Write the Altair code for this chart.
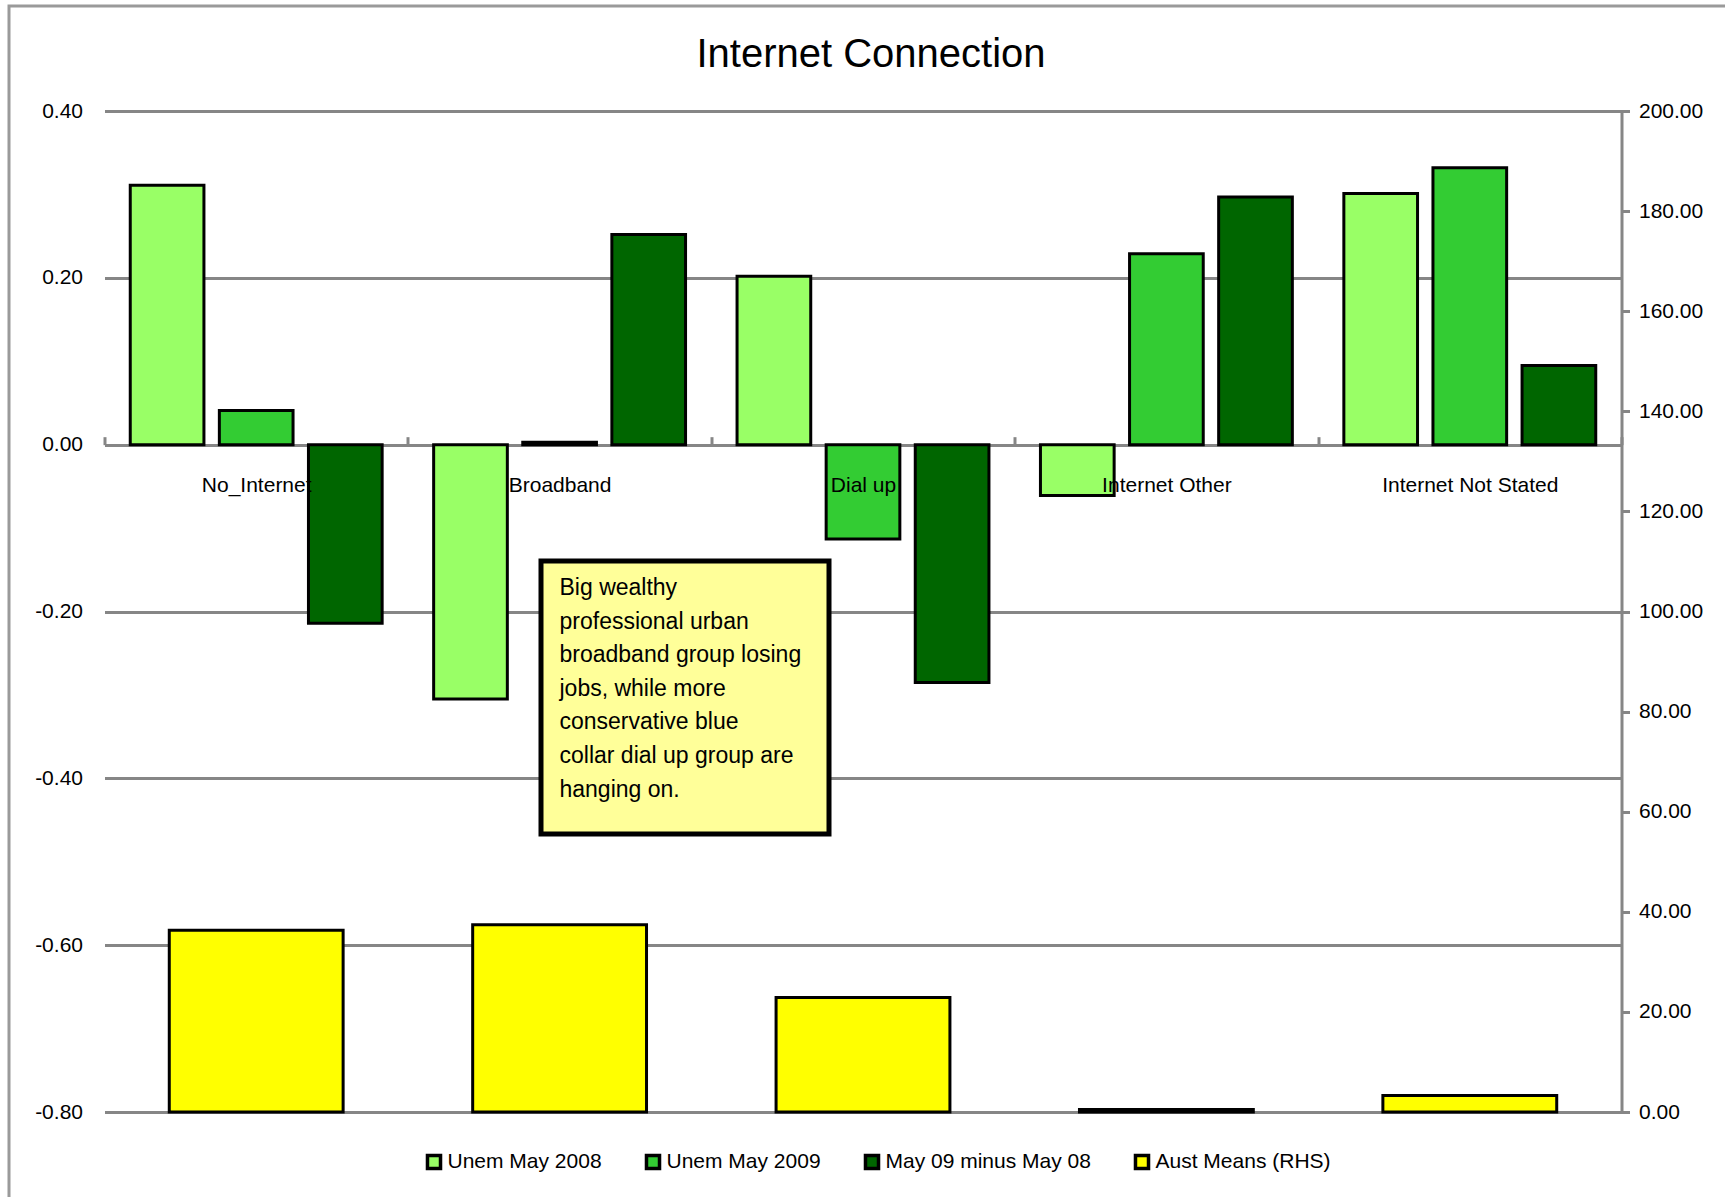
import altair as alt
import pandas as pd

# ---------------- data ----------------
categories = ["No_Internet", "Broadband", "Dial up", "Internet Other", "Internet Not Stated"]
series_names = ["Unem May 2008", "Unem May 2009", "May 09 minus May 08", "Aust Means (RHS)"]
unem_may_2008 = [0.311, -0.305, 0.202, -0.061, 0.301]
unem_may_2009 = [0.041, 0.003, -0.113, 0.229, 0.332]
may09_minus_may08 = [-0.214, 0.252, -0.285, 0.297, 0.095]
aust_means_rhs = [36.3, 37.4, 22.9, 0.5, 3.3]
series_colors = ["#99FF66", "#33CC33", "#006600", "#FFFF00"]
left_ticks = [0.4, 0.2, 0.0, -0.2, -0.4, -0.6, -0.8]
right_ticks = [0, 20, 40, 60, 80, 100, 120, 140, 160, 180, 200]
title_text = "Internet Connection"
note_lines = [
    "Big wealthy",
    "professional urban",
    "broadband group losing",
    "jobs, while more",
    "conservative  blue",
    "collar dial up group are",
    "hanging on.",
]

green_rows = []
for i, cat in enumerate(categories):
    for name, vals in zip(series_names[:3], [unem_may_2008, unem_may_2009, may09_minus_may08]):
        green_rows.append({"category": cat, "series": name, "value": vals[i]})
green_df = pd.DataFrame(green_rows)
yellow_df = pd.DataFrame({"category": categories,
                          "series": [series_names[3]] * len(categories),
                          "value": aust_means_rhs})

# ---------------- layout / style ----------------
FONT = "Liberation Sans"
GRID = "#868686"
W, H = 1517, 1001
LEFT_DOMAIN = [-0.8, 0.4]
zero_offset = -H * (LEFT_DOMAIN[1] - 0) / (LEFT_DOMAIN[1] - LEFT_DOMAIN[0])

x_axis = alt.Axis(orient="top", offset=zero_offset, domain=False, ticks=True,
                  tickBand="extent", tickSize=8, tickWidth=3, tickColor=GRID,
                  labelAngle=0, labelFont=FONT, labelFontSize=21, labelColor="black",
                  labelBaseline="middle", labelPadding=-49, labelOverlap=False,
                  labelBound=False, labelLimit=0, zindex=1, title=None)
x_enc = alt.X("category:N", sort=categories, title=None,
              scale=alt.Scale(paddingInner=0, paddingOuter=0), axis=x_axis)

color_enc = alt.Color(
    "series:N",
    scale=alt.Scale(domain=series_names, range=series_colors),
    legend=alt.Legend(title=None, orient="none", legendX=319, legendY=1040,
                      direction="horizontal", symbolType="square", symbolSize=170,
                      symbolStrokeColor="black", symbolStrokeWidth=3.5,
                      labelFont=FONT, labelFontSize=21, labelColor="black",
                      labelLimit=0, columnPadding=36, labelOffset=3),
)

left_axis = alt.Axis(orient="left", values=left_ticks, grid=True, gridColor=GRID,
                     gridWidth=3, domain=False, ticks=False, labelPadding=22,
                     labelFont=FONT, labelFontSize=21, labelColor="black",
                     labelExpr="(datum.value < -1e-9 ? '-' : '') + format(abs(datum.value), '.2f')",
                     title=None)
right_axis = alt.Axis(orient="right", values=right_ticks, grid=False, domain=True,
                      domainColor=GRID, domainWidth=3, ticks=True, tickColor=GRID,
                      tickWidth=3, tickSize=8, labelPadding=9, labelFont=FONT,
                      labelFontSize=21, labelColor="black",
                      labelExpr="format(datum.value, '.2f')", title=None)

one = alt.Data(values=[{}])

frame = alt.Chart(one).mark_rect(fill=None, stroke="#9a9a9a", strokeWidth=3).encode(
    x=alt.value(-95.5), x2=alt.value(1640), y=alt.value(-105), y2=alt.value(1110))

title = alt.Chart(one).mark_text(font=FONT, fontSize=40, color="black",
                                 align="center", baseline="middle").encode(
    x=alt.value(766.5), y=alt.value(-56), text=alt.value(title_text))

green = alt.Chart(green_df).mark_bar(stroke="black", strokeWidth=3).encode(
    x=x_enc,
    xOffset=alt.XOffset("series:N", sort=series_names[:3],
                        scale=alt.Scale(paddingInner=0.173, paddingOuter=0.289)),
    y=alt.Y("value:Q", scale=alt.Scale(domain=LEFT_DOMAIN, nice=False, zero=False),
            axis=left_axis),
    color=color_enc,
)

yellow = alt.Chart(yellow_df).mark_bar(stroke="black", strokeWidth=3,
                                        width=alt.RelativeBandSize(0.573)).encode(
    x=x_enc,
    y=alt.Y("value:Q", scale=alt.Scale(domain=[0, 200], nice=False), axis=right_axis),
    color=color_enc,
)

box = alt.Chart(one).mark_rect(fill="#FFFF99", stroke="black", strokeWidth=5).encode(
    x=alt.value(436.5), x2=alt.value(724.5), y=alt.value(450), y2=alt.value(723))

note = alt.Chart(one).mark_text(font=FONT, fontSize=23, lineHeight=33.6, color="black",
                                align="left", baseline="top").encode(
    x=alt.value(455), y=alt.value(466), text=alt.value(note_lines))

chart = alt.layer(frame, title, green, yellow, box, note).resolve_scale(
    y="independent"
).properties(
    width=W, height=H,
    autosize=alt.AutoSizeParams(type="none"),
    padding={"left": 104.5, "top": 111, "right": 103.5, "bottom": 85},
    background="white",
).configure_view(stroke=None)

chart.save("out.html", embed_options={"renderer": "svg", "actions": False})
